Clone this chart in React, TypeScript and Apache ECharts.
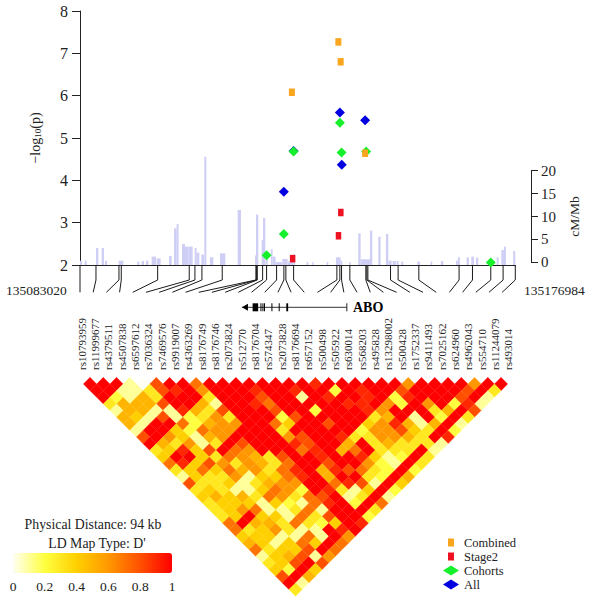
import React, { useEffect, useRef } from "react";
import * as echarts from "echarts";

const SERIF = '"Liberation Serif", serif';
const INK = "#222222";

// Region span on the chromosome, in base pairs, and its width in kb
const regionLabels = ["135083020", "135176984"];
const regionKb = 93.964;

const snpNames = [
  "rs10793959", "rs11999677", "rs4379511", "rs4507838", "rs6597612", "rs7036324", "rs7469576",
  "rs9919007", "rs4363269", "rs8176749", "rs8176746", "rs2073824", "rs512770", "rs8176704",
  "rs574347", "rs2073828", "rs8176694", "rs657152", "rs500498", "rs505922", "rs630014",
  "rs568203", "rs495828", "rs13298002", "rs500428", "rs1752337", "rs9411493", "rs7025162",
  "rs624960", "rs4962043", "rs554710", "rs11244079", "rs493014",
];

// SNP positions, kb from the start of the region
const snpKb = [
  0, 3.45, 8.41, 8.91, 16.76, 23.58, 24.81, 26.32, 30.7, 37.97, 38.12, 38.27, 39.42, 40.28, 42.44,
  44.01, 44.44, 46.11, 55.45, 56.09, 56.46, 58.25, 61.7, 61.92, 62.14, 67.03, 68.67, 73.14, 81.83,
  84.72, 88.67, 91.33, 93.96,
];

// -log10(p) points: [kb, value]
const combined = [[45.74, 6.08], [55.77, 7.27], [56.27, 6.8], [61.55, 4.64]];
const stage2 = [[45.9, 2.15], [55.8, 2.69], [56.3, 3.24]];
const cohorts = [
  [40.28, 2.23], [44.0, 2.73], [46.1, 4.68], [56.1, 5.36], [56.46, 4.66], [61.77, 4.68], [88.67, 2.06],
];
const allStudies = [[44.0, 3.73], [46.1, 4.69], [56.1, 5.6], [56.5, 4.37], [61.55, 5.42]];

// Recombination rate: [start kb, end kb, cM/Mb]
const recombination = [
  [0, 0.43, 0.36], [1.0, 1.44, 0.36], [3.45, 3.96, 3.13], [4.68, 5.18, 3.13], [5.4, 5.83, 0.36],
  [8.35, 9.35, 0.36], [12.37, 12.81, 0.15], [13.31, 13.81, 0.29], [14.24, 14.75, 0.36],
  [15.47, 16.4, 1.24], [16.55, 17.41, 0.87], [19.21, 19.78, 1.38], [20.29, 20.86, 7.42],
  [20.86, 21.29, 8.37], [22.01, 22.66, 4.0], [22.66, 23.45, 3.42], [23.45, 24.32, 3.42],
  [24.75, 25.18, 3.13], [25.18, 25.76, 2.11], [26.19, 26.76, 1.67], [26.83, 27.27, 23.07],
  [28.06, 28.78, 1.09], [30.22, 31.37, 1.97], [34.03, 34.75, 11.43], [37.77, 38.3, 1.5],
  [37.99, 38.49, 10.41], [39.21, 39.5, 4.88], [39.5, 40.0, 9.68], [40.07, 40.5, 1.24],
  [41.22, 41.58, 2.84], [41.58, 42.23, 1.24], [42.23, 43.67, 0.05], [43.67, 44.82, 0.73],
  [44.82, 46.04, 0.15], [46.04, 46.4, 1.82], [48.92, 49.28, 0.05], [50.14, 50.43, 0.05],
  [53.24, 53.6, 0.05], [55.25, 56.26, 1.09], [56.26, 56.62, 0.36], [58.06, 58.42, 0.05],
  [60.07, 60.58, 6.33], [60.58, 62.59, 0.66], [62.59, 63.09, 6.91], [64.39, 64.89, 5.6],
  [66.04, 66.55, 6.19], [66.55, 67.27, 0.36], [67.48, 68.2, 0.29], [68.35, 68.78, 0.29],
  [69.35, 69.78, 0.15], [72.81, 73.38, 0.15], [75.68, 76.04, 0.15], [77.91, 78.42, 0.29],
  [81.15, 81.58, 0.36], [81.58, 82.01, 1.09], [83.45, 83.96, 1.09], [84.46, 85.04, 1.24],
  [85.47, 85.97, 1.02], [89.93, 90.36, 1.09], [90.94, 91.51, 2.69], [91.51, 91.94, 3.42],
  [93.5, 93.96, 2.47],
];

// ABO gene model, in kb
const geneSpan = [[34.95, 57.6]];
const geneExons = [
  [37.26, 38.46], [38.95, 39.03], [39.38, 39.46], [39.72, 39.8], [41.32, 41.4], [42.89, 42.97], [44.53, 44.93],
];

// LD D' per SNP pair, one string per distance between the SNPs; each character is tenths, a = 1.0
const ldDiagonals = [
  "aaa108aa7aaaaaaaa9aaaaaa6aaaa6aa",
  "aa11389a6aaa9aa9aa2a9aa8aaaa8a3",
  "a2153aaa3aaa8aa1a9aa9a29aaa8a1",
  "35558aa51aa97aaaaa99a62a6a291",
  "155119538aaa8aa2aaa96aaa35a8",
  "541812363aaa28aaaaa35a1a2a3",
  "51aa72566aa74aa8aa469515a1",
  "1aa42766aaa3aaaaa266843a2",
  "8a64156aaaa68aa9336653a9",
  "a53613a8aaa98aa5a353331",
  "34948a76aaa79a57a333a1",
  "4aa4376538aa9aa9412a3",
  "7948636537aa8aa621a3",
  "3474756379a598732a2",
  "1433614479a5aa32a5",
  "833413566aa7981a4",
  "343114762a9314a2",
  "4545376378a13a1",
  "3444142179a2a7",
  "346711371aaa3",
  "34a441738aa2",
  "7a5537324a9",
  "7346311a9a",
  "4441171a6",
  "541474a7",
  "73448a7",
  "145816",
  "348a8",
  "42a4",
  "8a5",
  "a1",
  "3",
];

const ldScaleTicks = ["0", "0.2", "0.4", "0.6", "0.8", "1"];
const ldScaleColors = ["#FFFFF4", "#FFFF40", "#FFD000", "#FF9800", "#FF5000", "#FF0000"];

const ldCells: number[][] = [];
ldDiagonals.forEach((row, r) => {
  Array.from(row).forEach((c, i) => {
    const d = r + 1;
    ldCells.push([i + d / 2, d, c === "a" ? 1 : Number(c) / 10]);
  });
});

const RATE_FLOOR = -0.59;
const FAN_STEP_KB = 13.2 / 4.635;

const txt = (text: string, x: number, y: number, fontSize: number, align = "center", extra: any = {}) => ({
  type: "text",
  x,
  y,
  silent: true,
  style: { text, fontSize, fontFamily: SERIF, fill: INK, align, verticalAlign: "middle", ...extra },
});

const scatter = (name: string, data: number[][], symbol: string, size: any, color: string, z: number) => ({
  name,
  type: "scatter",
  xAxisIndex: 0,
  yAxisIndex: 0,
  data,
  symbol,
  symbolSize: size,
  z,
  itemStyle: { color, opacity: 1 },
});

function buildOption(): any {
  const hiddenValue = (gridIndex: number, min: number, max: number, inverse = false) => ({
    type: "value",
    gridIndex,
    show: false,
    min,
    max,
    inverse,
  });
  const axisFont = { fontFamily: SERIF, color: INK };
  return {
    animation: false,
    backgroundColor: "#ffffff",
    textStyle: { fontFamily: SERIF },
    grid: [
      { left: 80, top: 11, width: 435.3, height: 254 },
      { left: 530, top: 170.7, width: 1, height: 91.6 },
      { left: 80, top: 265, width: 435.3, height: 65 },
      { left: 81.6, top: 371, width: 426.6, height: 1 },
      { left: 83.37, top: 377.37, width: 424.32, height: 218.8 },
    ],
    xAxis: [
      {
        type: "value",
        gridIndex: 0,
        min: 0,
        max: regionKb,
        axisLine: { show: true, onZero: false, lineStyle: { color: INK, width: 1 } },
        axisTick: { show: false },
        axisLabel: { show: false },
        splitLine: { show: false },
      },
      hiddenValue(1, 0, 1),
      hiddenValue(2, 0, regionKb),
      {
        type: "category",
        gridIndex: 3,
        position: "top",
        data: snpNames,
        boundaryGap: false,
        axisLine: { show: false },
        axisTick: { show: false },
        axisLabel: { interval: 0, rotate: 90, margin: 1, fontSize: 11, ...axisFont },
      },
      hiddenValue(4, 0, 32),
    ],
    yAxis: [
      {
        type: "value",
        gridIndex: 0,
        min: 2,
        max: 8,
        interval: 1,
        name: "\u2212log{s|10}(p)",
        nameLocation: "middle",
        nameGap: 38,
        nameTextStyle: {
          fontSize: 14,
          ...axisFont,
          rich: { s: { fontSize: 9, fontFamily: SERIF, color: INK, verticalAlign: "bottom" } },
        },
        axisLine: { show: true, onZero: false, lineStyle: { color: INK, width: 1 } },
        axisTick: { show: true, length: 8, lineStyle: { color: INK, width: 1 } },
        axisLabel: { fontSize: 16, margin: 12, ...axisFont },
        splitLine: { show: false },
      },
      hiddenValue(0, RATE_FLOOR, 54.87),
      {
        type: "value",
        gridIndex: 1,
        position: "right",
        min: 0,
        max: 20,
        interval: 5,
        name: "cM/Mb",
        nameLocation: "middle",
        nameGap: 36,
        nameTextStyle: { fontSize: 13.5, ...axisFont },
        axisLine: { show: true, onZero: false, lineStyle: { color: INK, width: 1 } },
        axisTick: { show: true, length: 7, lineStyle: { color: INK, width: 1 } },
        axisLabel: { fontSize: 15, margin: 10, ...axisFont },
        splitLine: { show: false },
      },
      hiddenValue(2, 0, 65, true),
      hiddenValue(3, 0, 1),
      hiddenValue(4, 0, 33, true),
    ],
    legend: {
      left: 443,
      top: 536,
      orient: "vertical",
      itemWidth: 16,
      itemHeight: 10,
      itemGap: 1,
      padding: 0,
      data: [
        { name: "Combined", icon: "path://M0,0M2,1H8V9H2ZM10,10" },
        { name: "Stage2", icon: "path://M0,0M2,1H8V9H2ZM10,10" },
        { name: "Cohorts", icon: "diamond" },
        { name: "All", icon: "diamond" },
      ],
      textStyle: { fontSize: 12.5, fontFamily: SERIF, color: INK },
      selectedMode: false,
    },
    visualMap: {
      type: "continuous",
      seriesIndex: 7,
      dimension: 2,
      min: 0,
      max: 1,
      orient: "horizontal",
      left: 13,
      top: 553,
      padding: 0,
      itemWidth: 20,
      itemHeight: 159,
      calculable: false,
      hoverLink: false,
      showLabel: false,
      text: null,
      inRange: { color: ldScaleColors },
    },
    series: [
      {
        name: "Recombination rate",
        type: "custom",
        xAxisIndex: 0,
        yAxisIndex: 1,
        data: recombination,
        encode: { x: [0, 1], y: 2 },
        z: 1,
        renderItem: (_p: any, api: any) => {
          const a = api.coord([api.value(0), api.value(2)]);
          const b = api.coord([api.value(1), RATE_FLOOR]);
          return {
            type: "rect",
            shape: { x: a[0], y: a[1], width: b[0] - a[0], height: b[1] - a[1] },
            style: { fill: "#CFCFF6" },
          };
        },
      },
      scatter("All", allStudies, "diamond", 10, "#0000E0", 3),
      scatter("Combined", combined, "rect", [6, 7.5], "#F9A61E", 6),
      scatter("Stage2", stage2, "rect", [5.5, 7.5], "#EE1122", 4),
      scatter("Cohorts", cohorts, "diamond", 10, "#16F02C", 5),
      {
        name: "SNP connectors",
        type: "custom",
        xAxisIndex: 2,
        yAxisIndex: 3,
        data: snpKb.map((kb, i) => [kb, i]),
        encode: { x: 0, y: -1 },
        renderItem: (_p: any, api: any) => {
          const kb = api.value(0);
          const idx = api.value(1);
          return {
            type: "polyline",
            shape: {
              points: [api.coord([kb, 0]), api.coord([kb, 15]), api.coord([idx * FAN_STEP_KB, 27.3])],
            },
            style: { stroke: "#1a1a1a", lineWidth: 1, fill: "none" },
          };
        },
      },
      {
        name: "ABO gene",
        type: "custom",
        xAxisIndex: 2,
        yAxisIndex: 3,
        data: [
          ...geneSpan.map((s) => [s[0], s[1], 0]),
          ...geneExons.map((e, i) => [e[0], e[1], i === 0 ? 2 : 1]),
        ],
        encode: { x: [0, 1], y: -1 },
        renderItem: (_p: any, api: any) => {
          const kind = api.value(2);
          const s = api.coord([api.value(0), 42.3]);
          const e = api.coord([api.value(1), 42.3]);
          if (kind === 0) {
            return {
              type: "group",
              children: [
                { type: "line", shape: { x1: s[0], y1: s[1], x2: e[0], y2: e[1] }, style: { stroke: "#333", lineWidth: 1 } },
                { type: "line", shape: { x1: e[0], y1: s[1] - 4, x2: e[0], y2: s[1] + 4 }, style: { stroke: "#222", lineWidth: 1 } },
                {
                  type: "polygon",
                  shape: { points: [[s[0], s[1]], [s[0] + 6, s[1] - 3.5], [s[0] + 6, s[1] + 3.5]] },
                  style: { fill: "#000" },
                },
              ],
            };
          }
          return {
            type: "rect",
            shape: { x: s[0], y: s[1] - 4, width: Math.max(e[0] - s[0], 1), height: 8 },
            style: { fill: "#000" },
          };
        },
      },
      {
        name: "LD map",
        type: "custom",
        xAxisIndex: 4,
        yAxisIndex: 5,
        data: ldCells,
        encode: { x: 0, y: 1 },
        renderItem: (_p: any, api: any) => {
          const u = api.value(0);
          const d = api.value(1);
          const color = api.visual("color");
          return {
            type: "polygon",
            shape: {
              points: [api.coord([u - 0.5, d]), api.coord([u, d - 1]), api.coord([u + 0.5, d]), api.coord([u, d + 1])],
            },
            style: { fill: color, stroke: color, lineWidth: 0.3 },
          };
        },
      },
    ],
    graphic: [
      txt(regionLabels[0], 6, 290.5, 13.5, "left"),
      txt(regionLabels[1], 524, 290.5, 13.5, "left"),
      txt("ABO", 353, 307, 14, "left", { fontWeight: "bold", fill: "#000" }),
      txt("Physical Distance: 94 kb", 93, 524, 13.8),
      txt("LD Map Type: D'", 97, 543, 13.8),
      ...ldScaleTicks.map((t, i) => txt(t, 13 + i * 31.8, 586, 13.5)),
    ],
  };
}

export default function App() {
  const ref = useRef<HTMLDivElement>(null);
  useEffect(() => {
    if (!ref.current) return;
    const chart = echarts.init(ref.current, undefined, { renderer: "svg" });
    chart.setOption(buildOption());
    return () => chart.dispose();
  }, []);
  return <div ref={ref} style={{ position: "fixed", left: 0, top: 0, width: 592, height: 601 }} />;
}
